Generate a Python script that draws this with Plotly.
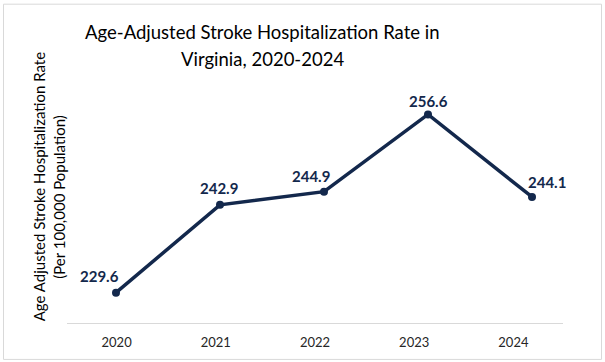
import plotly.graph_objects as go

years = ["2020", "2021", "2022", "2023", "2024"]
rates = [229.6, 242.9, 244.9, 256.6, 244.1]
labels = ["229.6", "242.9", "244.9", "256.6", "244.1"]

title_lines = ["Age-Adjusted Stroke Hospitalization Rate in", "Virginia, 2020-2024"]
ytitle_lines = ["Age Adjusted Stroke Hospitalization Rate", "(Per 100,000 Population)"]

NAVY = "#13284c"
FONT = "Lato"

W, H = 605, 362
L, R, T, B = 67, 42, 91.5, 39
pw, ph = W - L - R, H - T - B

def px(x):
    return (x - L) / pw

def py(y):
    return (H - B - y) / ph

idx = list(range(len(years)))

fig = go.Figure()
# invisible trace so the category tick axis is drawn
fig.add_trace(go.Scatter(
    x=idx, y=rates, xaxis="x", yaxis="y", mode="markers",
    marker=dict(opacity=0), hoverinfo="skip", showlegend=False,
))
fig.add_trace(go.Scatter(
    x=idx, y=rates, xaxis="x2", yaxis="y", mode="lines+markers",
    line=dict(color=NAVY, width=3.5),
    marker=dict(color=NAVY, size=8),
    hoverinfo="skip", showlegend=False,
))

shifts = [(-16, 17), (-1, 17), (-13, 16), (0, 13), (15, 15)]
annotations = []
for i, v, lab, (dx, dy) in zip(idx, rates, labels, shifts):
    annotations.append(dict(
        x=i, y=v, xref="x2", yref="y", text=f"<b>{lab}</b>", showarrow=False,
        xanchor="center", yanchor="middle",
        xshift=dx, yshift=dy, font=dict(family=FONT, size=15, color=NAVY),
    ))

def paper_text(x, y, text, size, angle=0):
    return dict(x=px(x), y=py(y), xref="paper", yref="paper", text=text,
                textangle=angle, showarrow=False, xanchor="center", yanchor="middle",
                font=dict(family=FONT, size=size, color="#000000"))

annotations.append(paper_text(262, 31, title_lines[0], 18.5))
annotations.append(paper_text(262, 58, title_lines[1], 18.5))
annotations.append(paper_text(39, 186, ytitle_lines[0], 15, -90))
annotations.append(paper_text(59, 196.5, ytitle_lines[1], 15, -90))

fig.update_layout(
    width=W, height=H, autosize=False,
    margin=dict(l=L, r=R, t=T, b=B, pad=0, autoexpand=False),
    paper_bgcolor="white", plot_bgcolor="white",
    xaxis=dict(
        range=[-0.5, 4.5], tickvals=idx, ticktext=years, automargin=False,
        showgrid=False, zeroline=False, showline=True, linecolor="#d9d9d9", linewidth=1,
        ticks="", ticklabelstandoff=7,
        tickfont=dict(family=FONT, size=13, color="#262626"),
    ),
    xaxis2=dict(
        overlaying="x", range=[-0.471, 4.298], automargin=False,
        visible=False, showgrid=False, zeroline=False,
    ),
    yaxis=dict(
        range=[225, 260], visible=False, showgrid=False, zeroline=False, automargin=False,
    ),
    annotations=annotations,
    shapes=[dict(type="rect", xref="paper", yref="paper",
                 x0=px(3.5), x1=px(601.5), y0=py(359.5), y1=py(3.5),
                 line=dict(color="#d9d9d9", width=1), fillcolor="rgba(0,0,0,0)", layer="above")],
)

fig.write_html("out.html", config={"displayModeBar": False},
               post_script="document.body.style.margin='0';")
